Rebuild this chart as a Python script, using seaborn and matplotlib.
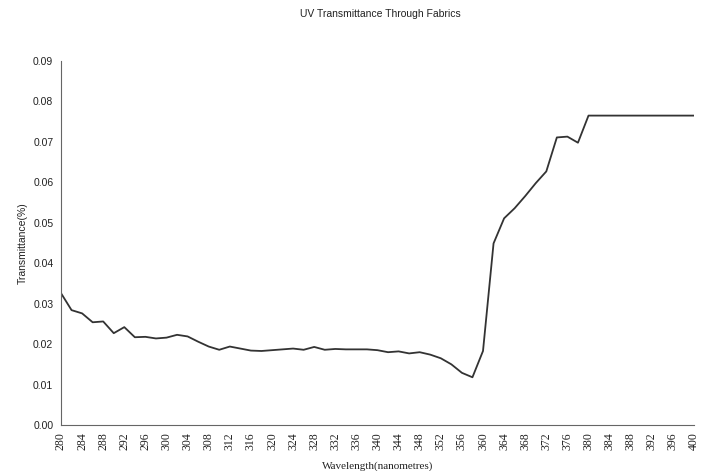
import matplotlib
matplotlib.use("Agg")
import matplotlib.pyplot as plt
import seaborn as sns
import pandas as pd

wavelength = [280, 282, 284, 286, 288, 290, 292, 294, 296, 298,
              300, 302, 304, 306, 308, 310, 312, 314, 316, 318,
              320, 322, 324, 326, 328, 330, 332, 334, 336, 338,
              340, 342, 344, 346, 348, 350, 352, 354, 356, 358,
              360, 362, 364, 366, 368, 370, 372, 374, 376, 378,
              380, 382, 384, 386, 388, 390, 392, 394, 396, 398, 400]
transmittance = [0.0326, 0.0284, 0.0276, 0.0254, 0.0256, 0.0227, 0.0242, 0.0217, 0.0218, 0.0214,
                 0.0216, 0.0223, 0.0219, 0.0206, 0.0194, 0.0186, 0.0194, 0.0189, 0.0184, 0.0183,
                 0.0185, 0.0187, 0.0189, 0.0186, 0.0193, 0.0186, 0.0188, 0.0187, 0.0187, 0.0187,
                 0.0185, 0.0180, 0.0182, 0.0177, 0.0180, 0.0174, 0.0165, 0.0150, 0.0129, 0.0118,
                 0.0183, 0.0449, 0.0511, 0.0536, 0.0566, 0.0598, 0.0627, 0.0711, 0.0713, 0.0698,
                 0.0765, 0.0765, 0.0765, 0.0765, 0.0765, 0.0765, 0.0765, 0.0765, 0.0765, 0.0765, 0.0765]
xtick_labels = [280, 284, 288, 292, 296, 300, 304, 308, 312, 316, 320, 324, 328, 332, 336,
                340, 344, 348, 352, 356, 360, 364, 368, 372, 376, 380, 384, 388, 392, 396, 400]
ytick_values = [0.00, 0.01, 0.02, 0.03, 0.04, 0.05, 0.06, 0.07, 0.08, 0.09]

df = pd.DataFrame({"Wavelength": wavelength, "Transmittance": transmittance})

sns.set_style("white")
plt.rcParams['font.family'] = ['Liberation Sans', 'DejaVu Sans']

fig = plt.figure(figsize=(7.01, 4.71), dpi=100)
ax = fig.add_axes([61 / 701, 1 - 425 / 471, (694 - 61) / 701, (425 - 61) / 471])

sns.lineplot(data=df, x="Wavelength", y="Transmittance", ax=ax, color="#333333", linewidth=1.3)

ax.set_xlim(280, 400)
ax.set_ylim(0, 0.09)
ax.set_xticks(xtick_labels)
ax.set_xticks(wavelength, minor=True)
ax.set_xticklabels([str(v) for v in xtick_labels], rotation=90,
                   family="Liberation Serif", fontsize=8.5, color="#222222")
ax.set_yticks(ytick_values)
ax.set_yticklabels([f"{v:.2f}" for v in ytick_values], fontsize=7.5, color="#222222")

ax.tick_params(axis="x", which="both", direction="inout", length=6, width=0.8, color="#666666", pad=2)
ax.tick_params(axis="y", which="major", direction="inout", length=5, width=0.8, color="#666666", pad=3)

for s in ["top", "right"]:
    ax.spines[s].set_visible(False)
for s in ["left", "bottom"]:
    ax.spines[s].set_color("#666666")
    ax.spines[s].set_linewidth(0.8)

ax.set_xlabel("Wavelength(nanometres)", family="Liberation Serif", fontsize=8, color="#222222")
ax.xaxis.set_label_coords(0.5, -0.10)
ax.set_ylabel("Transmittance(%)", fontsize=7.5, labelpad=4, color="#222222")
fig.text(380 / 701, 1 - 14 / 471, "UV Transmittance Through Fabrics", ha="center", va="center",
         fontsize=7.5, color="#222222")

fig.savefig("out.png", dpi=100)
